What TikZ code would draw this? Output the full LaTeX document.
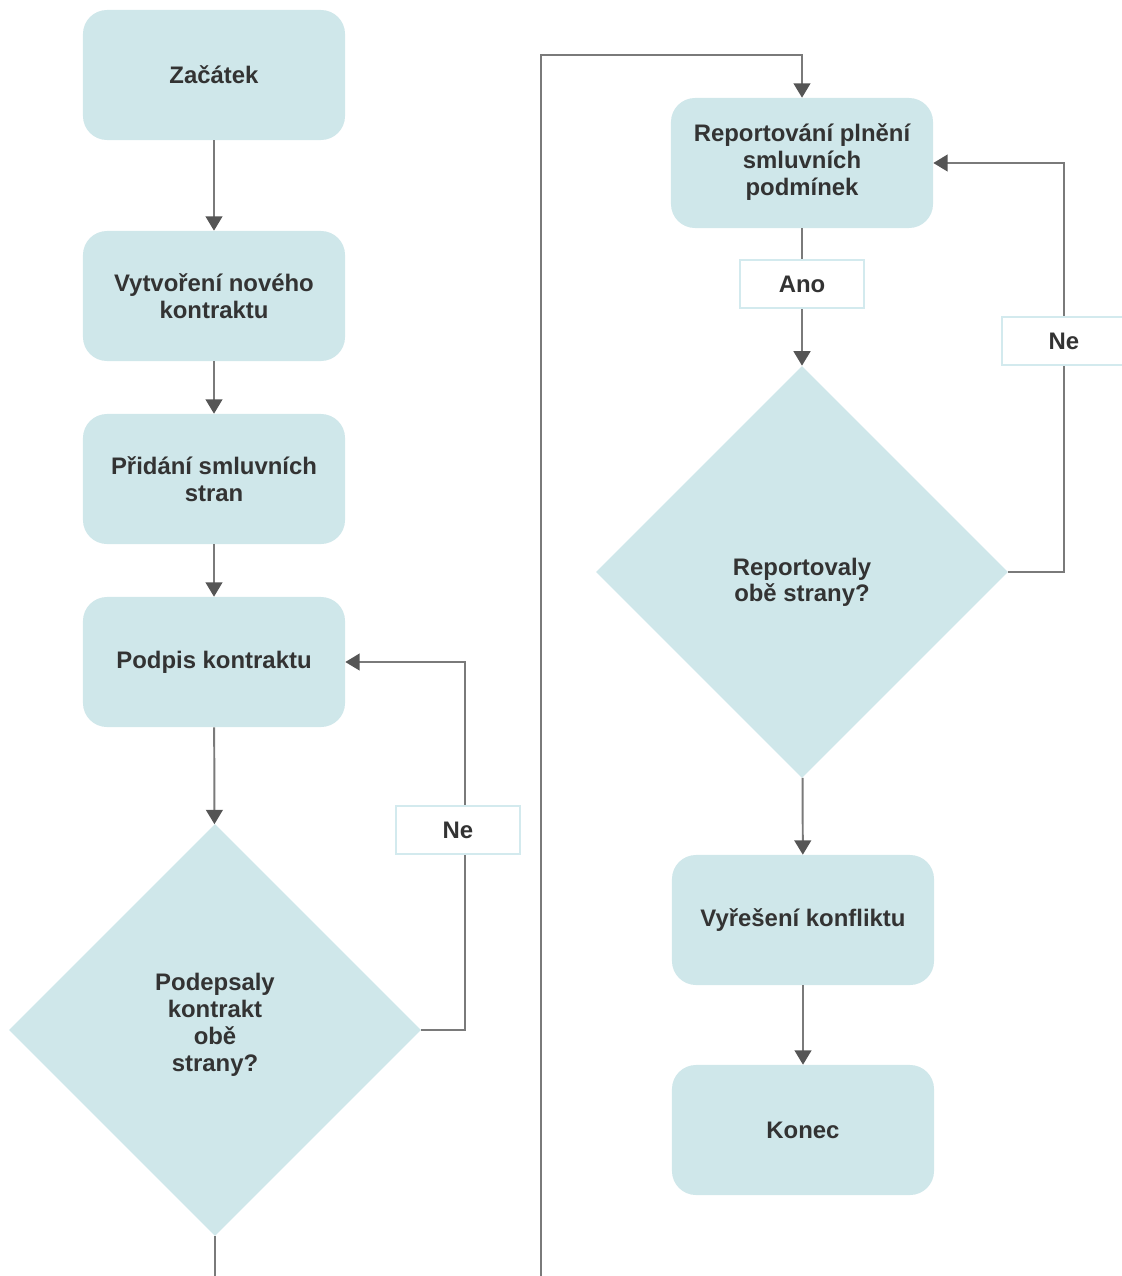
\documentclass[tikz,border=0pt]{standalone}
\usepackage{fontspec}
\setmainfont{Liberation Sans}
\usetikzlibrary{shapes.geometric, arrows.meta, positioning}
\definecolor{boxfill}{HTML}{CFE7EA}
\definecolor{linegray}{HTML}{7A7A7A}
\definecolor{tipgray}{HTML}{555555}
\definecolor{textgray}{HTML}{333333}
\definecolor{tagline}{HTML}{D3EAEE}

\begin{document}
\begin{tikzpicture}[
        x=0.025cm, y=-0.025cm,
        stepbox/.style={rectangle, rounded corners=0.6cm, fill=boxfill, minimum width=6.55cm, minimum height=3.25cm, align=center, text=textgray, font=\fontsize{17}{19}\selectfont\bfseries},
        decision/.style={diamond, fill=boxfill, minimum width=10.3cm, minimum height=10.3cm, inner sep=0pt, align=center, text=textgray, font=\fontsize{17}{19}\selectfont\bfseries},
        tag/.style={rectangle, fill=white, draw=tagline, line width=0.8pt, minimum width=3.1cm, minimum height=1.2cm, text=textgray, font=\fontsize{17}{19}\selectfont\bfseries},
        link/.style={draw=linegray, line width=1.4pt},
        flow/.style={link, -{Triangle[width=0.42cm, length=0.36cm, color=tipgray]}}
    ]
        \useasboundingbox (0,0) rectangle (1122,1276);

        % Left column
        \node[stepbox] (start) at (214,75) {Začátek};
        \node[stepbox] (create) at (214,296) {Vytvoření nového\\kontraktu};
        \node[stepbox] (parties) at (214,479) {Přidání smluvních\\stran};
        \node[stepbox] (sign) at (214,662) {Podpis kontraktu};
        \node[decision] (signed) at (215,1030) {Podepsaly\\kontrakt\\obě\\strany?\\[-8pt]};

        % Right column
        \node[stepbox] (report) at (802,163) {Reportování plnění\\smluvních\\podmínek\\[-14pt]};
        \node[decision] (reported) at (802,572) {Reportovaly\\obě strany?\\[-30pt]};
        \node[stepbox] (resolve) at (803,920) {Vyřešení konfliktu};
        \node[stepbox] (finish) at (803,1130) {Konec};

        \coordinate (outL) at (215,1276);
        \coordinate (outR) at (541,1276);
        \coordinate (top) at (541,55);

        % Connectors
        \draw[flow] (start) -- (create);
        \draw[flow] (create) -- (parties);
        \draw[flow] (parties) -- (sign);
        \draw[flow] (sign) -- (signed);
        \draw[flow] (signed.east) -- ++(44,0) |- (sign.east);
        \draw[link] (signed.south) -- (outL);
        \draw[flow] (outR) -- (top) -| (report.north);
        \draw[flow] (report) -- (reported);
        \draw[flow] (reported.east) -- ++(56,0) |- (report.east);
        \draw[flow] (reported) -- (resolve);
        \draw[flow] (resolve) -- (finish);

        % Labels
        \node[tag] (yes2) at (802,284) {Ano};
        \node[tag] (no1) at (458,830) {Ne};
        \node[tag] (no2) at (1064,341) {Ne};
    \end{tikzpicture}
\end{document}
